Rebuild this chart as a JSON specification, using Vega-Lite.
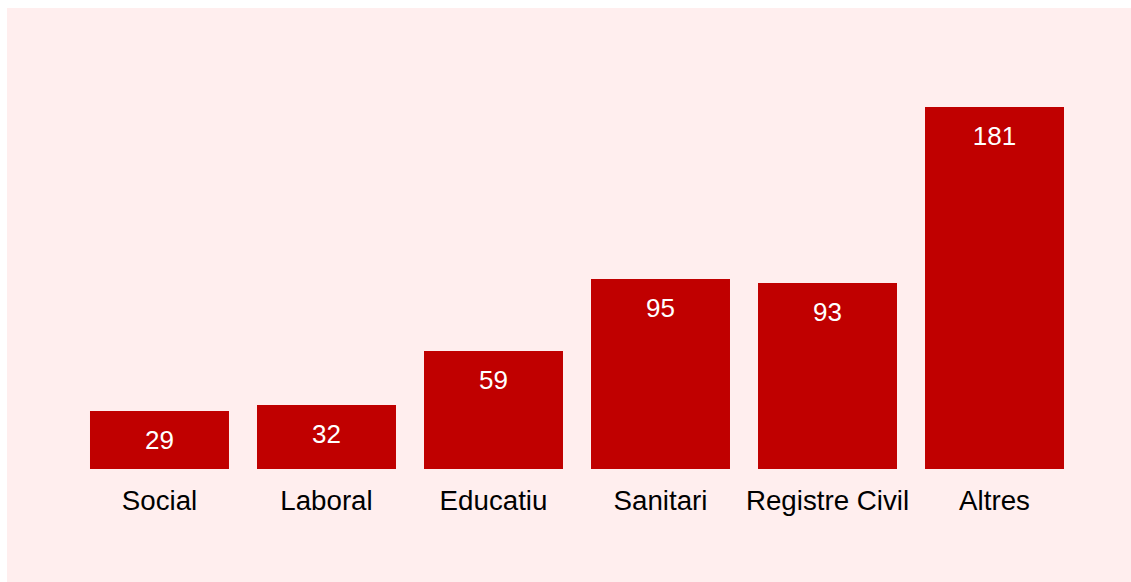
{
  "$schema": "https://vega.github.io/schema/vega-lite/v6.json",
  "autosize": {"type": "none"},
  "width": 1124,
  "height": 574,
  "padding": {"left": 7, "top": 8, "right": 0, "bottom": 0},
  "background": "white",
  "view": {"fill": "#FFEEEE", "stroke": null},
  "data": {
    "values": [
      {"categoria": "Social", "valor": 29},
      {"categoria": "Laboral", "valor": 32},
      {"categoria": "Educatiu", "valor": 59},
      {"categoria": "Sanitari", "valor": 95},
      {"categoria": "Registre Civil", "valor": 93},
      {"categoria": "Altres", "valor": 181}
    ]
  },
  "encoding": {
    "x": {
      "field": "categoria",
      "type": "nominal",
      "sort": null,
      "scale": {"range": [69, 1071], "paddingInner": 0.1677, "paddingOuter": 0.0838},
      "axis": {
        "title": null,
        "domain": false,
        "ticks": false,
        "offset": -113,
        "labelAngle": 0,
        "labelFont": "Liberation Sans",
        "labelFontSize": 27.7,
        "labelColor": "black",
        "labelBaseline": "alphabetic",
        "labelPadding": 40
      }
    },
    "y": {
      "field": "valor",
      "type": "quantitative",
      "scale": {"domain": [0, 200], "range": [461, 61], "nice": false},
      "axis": null
    }
  },
  "layer": [
    {"mark": {"type": "bar", "color": "#C00000"}},
    {
      "mark": {
        "type": "text",
        "color": "white",
        "font": "Liberation Sans",
        "fontSize": 26,
        "baseline": "alphabetic",
        "dy": 38
      },
      "encoding": {"text": {"field": "valor", "type": "quantitative"}}
    }
  ]
}
